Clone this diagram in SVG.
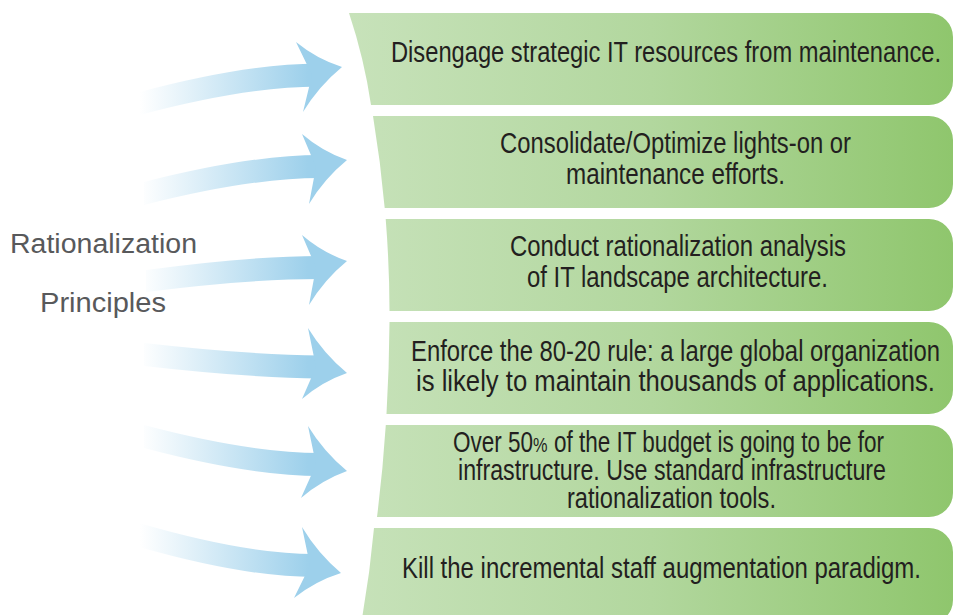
<svg xmlns="http://www.w3.org/2000/svg" width="954" height="615" viewBox="0 0 954 615">
<defs>
<linearGradient id="boxg" gradientUnits="userSpaceOnUse" x1="350" y1="0" x2="953" y2="0">
<stop offset="0" stop-color="#c7e2ba"/>
<stop offset="0.5" stop-color="#b2d79e"/>
<stop offset="1" stop-color="#8fc66d"/>
</linearGradient>
<linearGradient id="arrg" gradientUnits="userSpaceOnUse" x1="140" y1="0" x2="308" y2="0">
<stop offset="0" stop-color="#9dd0eb" stop-opacity="0"/>
<stop offset="1" stop-color="#9dd0eb" stop-opacity="1"/>
</linearGradient>
<style>
.box{fill:url(#boxg);}
.band{fill:url(#arrg);}
.head{fill:#9dd0eb;}
.t{font-family:"Liberation Sans Narrow","Liberation Sans",Arial,sans-serif;font-size:29px;fill:#231f20;}
.lbl{font-family:"Liberation Sans Narrow","Liberation Sans",Arial,sans-serif;font-size:27px;fill:#58595b;}
</style>
</defs>
<rect width="954" height="615" fill="#ffffff"/>

<g id="label">
<text class="lbl" x="10" y="253" textLength="187" lengthAdjust="spacingAndGlyphs">Rationalization</text>
<text class="lbl" x="40" y="312" textLength="126" lengthAdjust="spacingAndGlyphs">Principles</text>
</g>

<g id="connectors">
<path class="band" d="M140,92 Q245,64 318,63.5 L318,86.5 Q245,87 140,115 Z"/>
<path class="head" d="M296,42 Q316.6,58.9 342,67 Q318.7,86.2 303,112 L312,75 Z"/>
<path class="band" d="M144,182 Q250,155 320,155 L320,178 Q250,178 144,205 Z"/>
<path class="head" d="M302,134 Q322,151.3 347,160 Q324.2,178.7 309,204 L316,167 Z"/>
<path class="band" d="M146,270 Q250,256 320,256 L320,279 Q250,279 146,292 Z"/>
<path class="head" d="M302,235 Q322,252.3 347,261 Q324.2,279.7 309,305 L316,267.5 Z"/>
<path class="band" d="M144,343 Q250,355 320,355.5 L320,378.5 Q250,378 144,366 Z"/>
<path class="head" d="M308,328 Q323.7,353.8 347,373 Q322,381.7 302,399 L316,367 Z"/>
<path class="band" d="M144,425 Q250,453 320,453 L320,476 Q250,476 144,448 Z"/>
<path class="head" d="M308,426 Q323.7,451.8 347,471 Q321.5,480.2 301,498 L316,464.5 Z"/>
<path class="band" d="M139,523 Q245,554 314,554 L314,577 Q245,577 139,547 Z"/>
<path class="head" d="M302,527 Q317.7,553.3 341,573 Q315,581.2 294,598 L310,565.5 Z"/>
</g>

<g id="box1">
<path class="box" d="M349,13 L929,13 A24,24 0 0 1 953,37 L953,81 A24,24 0 0 1 929,105 L371,105 Q364.3,59 349,13 Z"/>
<text class="t" x="391" y="62" textLength="550" lengthAdjust="spacingAndGlyphs">Disengage strategic IT resources from maintenance.</text>
</g>
<g id="box2">
<path class="box" d="M373,116 L929,116 A24,24 0 0 1 953,140 L953,184 A24,24 0 0 1 929,208 L384.7,208 Q380.65,162 373,116 Z"/>
<text class="t" x="500" y="153" textLength="351" lengthAdjust="spacingAndGlyphs">Consolidate/Optimize lights-on or</text>
<text class="t" x="566" y="184" textLength="219" lengthAdjust="spacingAndGlyphs">maintenance efforts.</text>
</g>
<g id="box3">
<path class="box" d="M385.7,219 L929,219 A24,24 0 0 1 953,243 L953,287 A24,24 0 0 1 929,311 L389.5,311 Q389.4,265 385.7,219 Z"/>
<text class="t" x="510" y="256" textLength="336" lengthAdjust="spacingAndGlyphs">Conduct rationalization analysis</text>
<text class="t" x="527" y="287" textLength="301" lengthAdjust="spacingAndGlyphs">of IT landscape architecture.</text>
</g>
<g id="box4">
<path class="box" d="M389.5,322 L929,322 A24,24 0 0 1 953,346 L953,390 A24,24 0 0 1 929,414 L386.5,414 Q389.2,368 389.5,322 Z"/>
<text class="t" x="411" y="361" textLength="529" lengthAdjust="spacingAndGlyphs">Enforce the 80-20 rule: a large global organization</text>
<text class="t" x="416" y="391" textLength="519" lengthAdjust="spacingAndGlyphs">is likely to maintain thousands of applications.</text>
</g>
<g id="box5">
<path class="box" d="M385.8,425 L929,425 A24,24 0 0 1 953,449 L953,493 A24,24 0 0 1 929,517 L377,517 Q382.8,471 385.8,425 Z"/>
<text class="t" x="453" y="452" textLength="431" lengthAdjust="spacingAndGlyphs">Over 50<tspan font-size="21">%</tspan> of the IT budget is going to be for</text>
<text class="t" x="458" y="480" textLength="428" lengthAdjust="spacingAndGlyphs">infrastructure. Use standard infrastructure</text>
<text class="t" x="567" y="508" textLength="209" lengthAdjust="spacingAndGlyphs">rationalization tools.</text>
</g>
<g id="box6">
<path class="box" d="M374,528 L929,528 A24,24 0 0 1 953,552 L953,600 A24,24 0 0 1 929,624 L361,624 Q369.65,576 374,528 Z"/>
<text class="t" x="402" y="578" textLength="519" lengthAdjust="spacingAndGlyphs">Kill the incremental staff augmentation paradigm.</text>
</g>
</svg>
